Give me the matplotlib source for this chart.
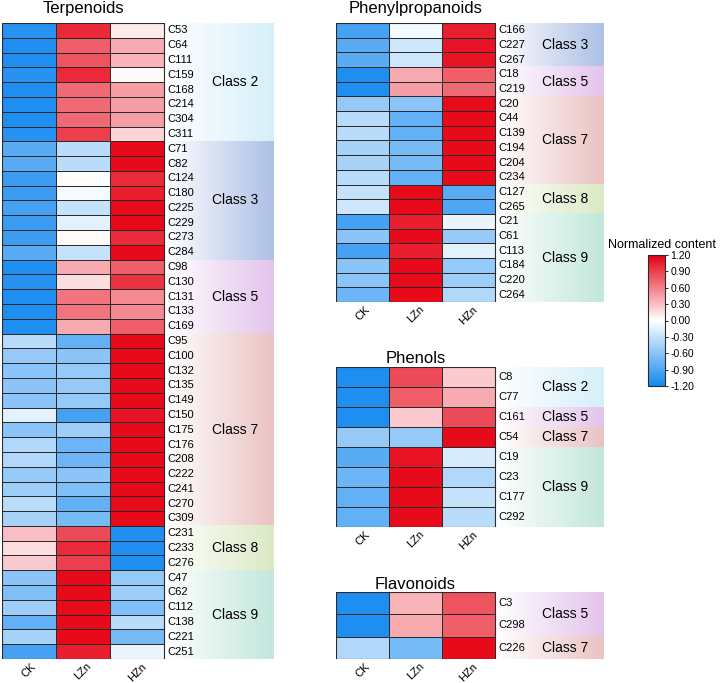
import numpy as np
import matplotlib
matplotlib.use("Agg")
import matplotlib.pyplot as plt
from matplotlib.colors import LinearSegmentedColormap, to_rgb

plt.rcParams['font.family'] = ['Liberation Sans', 'DejaVu Sans']

# ----------------------------
# Data
# ----------------------------
groups = ["CK", "LZn", "HZn"]

terp_rows = ["C53", "C64", "C111", "C159", "C168", "C214", "C304", "C311",
             "C71", "C82", "C124", "C180", "C225", "C229", "C273", "C284",
             "C98", "C130", "C131", "C133", "C169",
             "C95", "C100", "C132", "C135", "C149", "C150", "C175", "C176",
             "C208", "C222", "C241", "C270", "C309",
             "C231", "C233", "C276",
             "C47", "C62", "C112", "C138", "C221", "C251"]
terp_classes = ["Class 2", "Class 3", "Class 5", "Class 7", "Class 8", "Class 9"]
terp_counts = [8, 8, 5, 13, 3, 6]
terp_values = [
    [-1.10, 1.00, 0.10], [-1.15, 0.75, 0.40], [-1.15, 0.80, 0.35], [-1.10, 1.00, 0.02],
    [-1.15, 0.70, 0.45], [-1.15, 0.70, 0.45], [-1.15, 0.70, 0.45], [-1.10, 0.90, 0.20],
    [-0.85, -0.35, 1.15], [-0.85, -0.35, 1.15], [-1.00, 0.00, 1.00], [-1.00, -0.05, 1.05],
    [-0.95, -0.30, 1.15], [-1.00, -0.15, 1.15], [-1.00, 0.02, 1.00], [-0.85, -0.30, 1.15],
    [-1.15, 0.40, 0.75], [-1.10, 0.15, 0.95], [-1.15, 0.65, 0.55], [-1.15, 0.65, 0.55],
    [-1.15, 0.40, 0.75],
    [-0.35, -0.80, 1.15], [-0.55, -0.60, 1.15], [-0.60, -0.55, 1.15], [-0.60, -0.55, 1.15],
    [-0.60, -0.55, 1.15], [-0.15, -0.95, 1.10], [-0.60, -0.50, 1.15], [-0.40, -0.75, 1.15],
    [-0.40, -0.75, 1.15], [-0.55, -0.60, 1.15], [-0.50, -0.65, 1.15], [-0.35, -0.80, 1.15],
    [-0.45, -0.70, 1.15],
    [0.30, 0.85, -1.15], [0.15, 1.00, -1.15], [0.25, 0.90, -1.15],
    [-0.60, 1.15, -0.55], [-0.65, 1.15, -0.50], [-0.50, 1.15, -0.65], [-0.80, 1.15, -0.35],
    [-0.45, 1.15, -0.70], [-0.95, 1.05, -0.10],
]

phen_rows = ["C166", "C227", "C267", "C18", "C219",
             "C20", "C44", "C139", "C194", "C204", "C234",
             "C127", "C265",
             "C21", "C61", "C113", "C184", "C220", "C264"]
phen_classes = ["Class 3", "Class 5", "Class 7", "Class 8", "Class 9"]
phen_counts = [3, 2, 6, 2, 6]
phen_values = [
    [-0.95, -0.05, 1.05], [-0.85, -0.25, 1.10], [-0.85, -0.25, 1.10],
    [-1.15, 0.40, 0.75], [-1.15, 0.45, 0.70],
    [-0.55, -0.60, 1.15], [-0.35, -0.80, 1.15], [-0.35, -0.80, 1.15],
    [-0.45, -0.70, 1.15], [-0.45, -0.70, 1.15], [-0.35, -0.80, 1.15],
    [-0.30, 1.15, -0.85], [-0.25, 1.15, -0.90],
    [-0.95, 1.05, -0.10], [-0.60, 1.15, -0.55], [-0.95, 1.05, -0.15],
    [-0.60, 1.15, -0.55], [-0.60, 1.15, -0.50], [-0.75, 1.15, -0.40],
]

phenol_rows = ["C8", "C77", "C161", "C54", "C19", "C23", "C177", "C292"]
phenol_classes = ["Class 2", "Class 5", "Class 7", "Class 9"]
phenol_counts = [2, 1, 1, 4]
phenol_values = [
    [-1.15, 0.85, 0.25], [-1.15, 0.75, 0.40], [-1.15, 0.25, 0.85], [-0.55, -0.55, 1.15],
    [-0.85, 1.10, -0.20], [-0.75, 1.15, -0.40], [-0.80, 1.15, -0.30], [-0.80, 1.15, -0.35],
]

flav_rows = ["C3", "C298", "C226"]
flav_classes = ["Class 5", "Class 7"]
flav_counts = [2, 1]
flav_values = [
    [-1.15, 0.35, 0.80], [-1.15, 0.40, 0.75], [-0.40, -0.70, 1.15],
]

class_colors = {
    "Class 2": "#d6f0fa",
    "Class 3": "#adc0e6",
    "Class 5": "#e4c4ec",
    "Class 7": "#ebc3c3",
    "Class 8": "#dbeac4",
    "Class 9": "#c2e7dc",
}

cbar_ticks = [-1.2, -0.9, -0.6, -0.3, 0.0, 0.3, 0.6, 0.9, 1.2]

# ----------------------------
# Setup
# ----------------------------
W, H = 726, 683
fig = plt.figure(figsize=(W / 100, H / 100), dpi=100)
cmap = LinearSegmentedColormap.from_list("bwr_c", ["#1589f0", "#ffffff", "#e60012"])
edge = "#2a2a2a"


def panel(box, title, title_pad, rows, values, classes, counts, band_w):
    x0, y0, x1, y1 = box  # pixels
    ax = fig.add_axes([x0 / W, 1 - y1 / H, (x1 - x0) / W, (y1 - y0) / H])
    n = len(rows)
    vals = np.array(values)

    # class bands: white -> class colour gradient
    start = 0
    for cls, cnt in zip(classes, counts):
        c = np.array(to_rgb(class_colors[cls]))
        t = np.linspace(0, 1, 64)[None, :, None]
        grad = (1 - t) * np.ones(3) + t * c
        ax.imshow(grad, extent=(3, 3 + band_w, start + cnt, start), aspect="auto",
                  interpolation="bilinear", zorder=0)
        ax.text(4.32, start + cnt / 2, cls, ha="center", va="center", fontsize=10)
        start += cnt

    mesh = ax.pcolormesh(np.arange(4), np.arange(n + 1), vals, cmap=cmap,
                         vmin=-1.2, vmax=1.2, edgecolors=edge, linewidth=0.6, zorder=2)
    ax.plot([0, 3, 3, 0, 0], [0, 0, n, n, 0], color=edge, lw=0.8, zorder=3)

    for i, r in enumerate(rows):
        ax.text(3.07, i + 0.5, r, ha="left", va="center", fontsize=8)

    ax.set_xlim(0, 3 + band_w)
    ax.set_ylim(n, 0)
    ax.set_xticks([0.5, 1.5, 2.5])
    ax.set_xticklabels(groups, rotation=45, ha="center", va="top", fontsize=8)
    ax.set_yticks([])
    ax.tick_params(axis="x", length=0, pad=1.5)
    for s in ax.spines.values():
        s.set_visible(False)

    ax.annotate(title, xy=(1.5, 0), xytext=(0, title_pad), textcoords="offset points",
                ha="center", va="baseline", fontsize=12)
    return mesh


mesh = panel((2, 23, 273, 659), "Terpenoids", 7.5, terp_rows, terp_values,
             terp_classes, terp_counts, 2.02)
panel((336, 23, 603, 302), "Phenylpropanoids", 7.5, phen_rows, phen_values,
      phen_classes, phen_counts, 2.04)
panel((336, 367, 603, 527), "Phenols", 3, phenol_rows, phenol_values,
      phenol_classes, phenol_counts, 2.04)
panel((336, 592, 603, 659), "Flavonoids", 2.5, flav_rows, flav_values,
      flav_classes, flav_counts, 2.04)

# colour bar
cax = fig.add_axes([648 / W, 1 - 386 / H, 17 / W, 131 / H])
cb = fig.colorbar(mesh, cax=cax, ticks=cbar_ticks, format="%.2f")
cb.outline.set_edgecolor(edge)
cb.outline.set_linewidth(0.8)
cax.tick_params(labelsize=7.5, length=2.5, width=0.6, pad=1.5)
fig.text(608 / W, 1 - 245 / H, "Normalized content", ha="left", va="center", fontsize=9)

plt.savefig("out.png", dpi=100)
